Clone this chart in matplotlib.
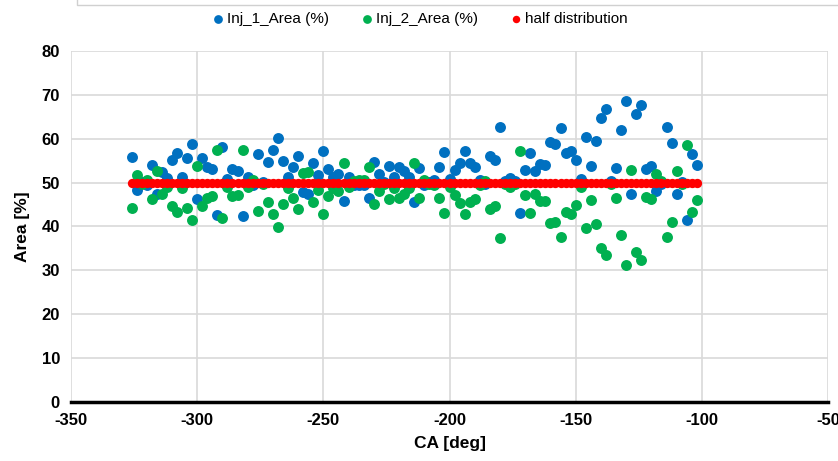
import numpy as np
import matplotlib
matplotlib.use('Agg')
import matplotlib.pyplot as plt
from matplotlib.lines import Line2D

plt.rcParams['font.family'] = ['Liberation Sans', 'DejaVu Sans']
plt.rcParams['axes.unicode_minus'] = False

# crank angle, 2 deg steps
ca = np.arange(-326, -100, 2)

inj1 = [55.8, 48.3, 50.2, 49.4, 54.0, 47.4, 52.5, 51.0, 55.2, 56.8,
        51.2, 55.7, 58.7, 46.3, 55.5, 53.6, 53.0, 42.6, 58.1, 50.9,
        53.2, 52.7, 42.4, 51.2, 49.4, 56.6, 50.2, 54.6, 57.4, 60.2,
        54.9, 51.3, 53.6, 56.0, 47.9, 47.5, 54.5, 51.7, 57.1, 53.0,
        51.2, 51.9, 45.7, 51.2, 49.5, 49.4, 49.4, 46.4, 54.7, 51.9,
        50.2, 53.7, 51.2, 53.6, 52.7, 51.2, 45.6, 53.4, 49.4, 50.2,
        50.6, 53.6, 57.0, 50.9, 52.8, 54.5, 57.2, 54.5, 53.6, 50.6,
        49.6, 56.0, 55.1, 62.7, 50.3, 51.1, 50.4, 43.0, 52.8, 56.8,
        52.6, 54.3, 54.1, 59.2, 58.7, 62.5, 56.8, 57.2, 55.1, 50.9,
        60.4, 53.9, 59.4, 64.8, 66.7, 50.3, 53.4, 62.1, 68.7, 47.4,
        65.7, 67.6, 53.1, 53.8, 48.1, 49.7, 62.7, 59.1, 47.3, 50.2,
        41.5, 56.5, 54.0]

inj2 = [44.3, 51.7, 49.8, 50.6, 46.2, 52.7, 47.5, 49.0, 44.7, 43.2,
        48.7, 44.3, 41.5, 53.7, 44.6, 46.4, 46.9, 57.4, 41.9, 49.1,
        47.0, 47.2, 57.4, 49.1, 50.6, 43.6, 49.8, 45.6, 42.8, 39.8,
        45.1, 48.7, 46.4, 44.0, 52.2, 52.5, 45.6, 48.3, 42.8, 47.0,
        48.8, 48.2, 54.5, 49.1, 50.4, 50.6, 50.6, 53.6, 45.1, 48.2,
        49.8, 46.3, 48.7, 46.4, 47.4, 48.8, 54.5, 46.4, 50.6, 49.8,
        49.4, 46.4, 43.0, 49.1, 47.2, 45.4, 42.8, 45.6, 46.3, 49.4,
        50.4, 43.9, 44.7, 37.3, 49.7, 49.0, 49.6, 57.1, 47.2, 43.1,
        47.3, 45.8, 45.8, 40.7, 41.1, 37.5, 43.2, 42.8, 44.9, 49.0,
        39.6, 46.0, 40.5, 35.2, 33.4, 49.7, 46.6, 38.0, 31.3, 52.8,
        34.3, 32.4, 46.8, 46.3, 51.9, 50.3, 37.5, 41.0, 52.6, 49.8,
        58.5, 43.4, 46.0]

half = [50.0] * len(ca)

fig = plt.figure(figsize=(8.38, 4.61), dpi=100)
ax = fig.add_axes([71 / 838, 59 / 461, 757 / 838, 351 / 461])

ax.scatter(ca, inj1, s=62, color='#0070C0', label='Inj_1_Area (%)', zorder=3, linewidths=0)
ax.scatter(ca, inj2, s=62, color='#00B050', label='Inj_2_Area (%)', zorder=3, linewidths=0)
ax.scatter(ca, half, s=45, color='#FF0000', label='half distribution', zorder=4, linewidths=0)

ax.set_xlim(-350, -50)
ax.set_ylim(0, 80)
ax.set_xticks(range(-350, -49, 50))
ax.set_yticks(range(0, 81, 10))
ax.grid(True, color='#D9D9D9', linewidth=1.2, zorder=0)
ax.set_axisbelow(True)
for side in ['top', 'right', 'left']:
    ax.spines[side].set_visible(False)
ax.spines['bottom'].set_color('black')
ax.spines['bottom'].set_linewidth(2.5)
ax.spines['bottom'].set_zorder(5)
ax.tick_params(length=0, labelsize=12, pad=8)
for lab in ax.get_xticklabels() + ax.get_yticklabels():
    lab.set_fontweight('bold')
ax.set_xlabel('CA [deg]', fontsize=12.5, fontweight='bold', labelpad=6)
ax.set_ylabel('Area [%]', fontsize=12.5, fontweight='bold', labelpad=8)

fig.legend(loc='center', bbox_to_anchor=(0.5, 1 - 19 / 461), ncol=3, frameon=False,
           fontsize=11, scatterpoints=1, handletextpad=0.1, columnspacing=2.0,
           markerscale=0.8, handlelength=1.0)

# border of the box above the chart
fig.add_artist(Line2D([77 / 838, 77 / 838, 1.0], [1.0, 1 - 5 / 461, 1 - 5 / 461],
                      transform=fig.transFigure, color='#D0D0D0', linewidth=1))

fig.savefig('out.png', dpi=100)
